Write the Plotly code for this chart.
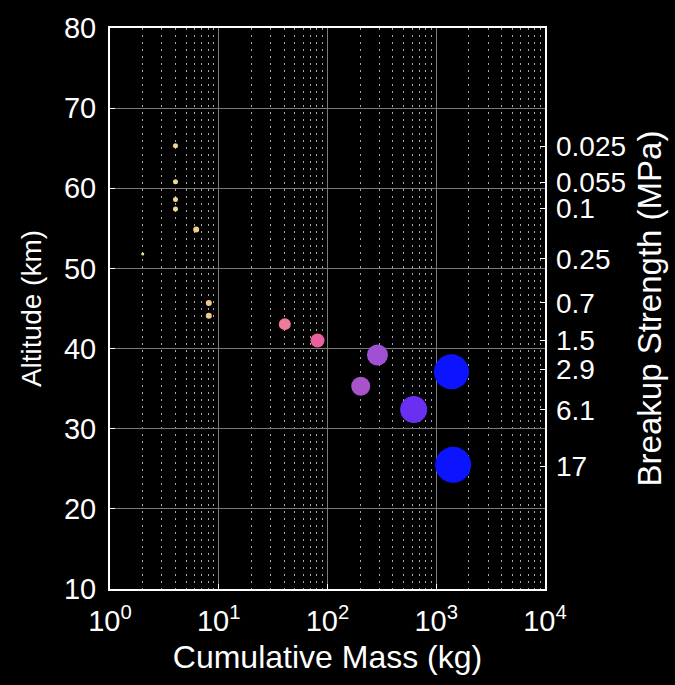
import plotly.graph_objects as go

# Data
mass_kg = [4.0, 4.0, 4.0, 4.0, 6.2, 2.0, 8.1, 8.1, 40.5, 81, 288, 202, 620, 1380, 1430]
altitude_km = [65.3, 60.8, 58.6, 57.4, 54.85, 51.8, 45.7, 44.1, 43.05, 41.0, 39.2, 35.3, 32.4, 37.1, 25.5]
marker_px = [5, 5, 5, 5, 6, 3, 6, 6, 12, 14, 21, 19, 27, 35, 36]
marker_colors = ["#f0d890", "#f0d890", "#f0d890", "#f0d890", "#f0d08c", "#f0e0a0",
                 "#f0c88c", "#f0c88c", "#f07a9c", "#e8609e", "#a050d4", "#a854c8",
                 "#6a30f2", "#0c14ff", "#0c14ff"]

strength_alt = [65.2, 60.7, 57.5, 51.2, 45.7, 41.0, 37.4, 32.35, 25.3]
strength_labels = ["0.025", "0.055", "0.1", "0.25", "0.7", "1.5", "2.9", "6.1", "17"]

x_decades = [1, 10, 100, 1000, 10000]
x_ticktext = ["10<sup>0</sup>", "10<sup>1</sup>", "10<sup>2</sup>", "10<sup>3</sup>", "10<sup>4</sup>"]
x_minor = [m * d for d in [1, 10, 100, 1000] for m in range(2, 10)]
y_ticks = [10, 20, 30, 40, 50, 60, 70, 80]

FONT = "Liberation Sans, Arial, Helvetica, sans-serif"

fig = go.Figure()
fig.add_trace(go.Scatter(
    x=mass_kg, y=altitude_km, mode="markers",
    marker=dict(size=marker_px, color=marker_colors, opacity=1, line=dict(width=0)),
    showlegend=False, hoverinfo="x+y",
))
# invisible trace to activate y2
fig.add_trace(go.Scatter(x=[mass_kg[0]], y=[altitude_km[0]], yaxis="y2",
                         mode="markers", marker=dict(opacity=0), showlegend=False,
                         hoverinfo="skip"))

fig.update_layout(
    width=675, height=685,
    paper_bgcolor="black", plot_bgcolor="black",
    margin=dict(l=110, r=130, t=22, b=96),
    font=dict(family=FONT, color="white", size=28),
    xaxis=dict(
        type="log", range=[0, 4],
        tickvals=x_decades, ticktext=x_ticktext,
        tickfont=dict(size=29), ticklabelstandoff=5,
        ticks="inside", ticklen=5, tickcolor="white",
        showgrid=True, gridcolor="#7a7a7a", gridwidth=1,
        minor=dict(tickvals=x_minor, showgrid=True, gridcolor="#a8a8a8",
                   griddash="2px,5px", gridwidth=1, ticks=""),
        showline=True, linecolor="white", linewidth=2, mirror=True,
        zeroline=False,
        title=dict(text="Cumulative Mass (kg)", font=dict(size=32), standoff=10),
    ),
    yaxis=dict(
        range=[10, 80], tickvals=y_ticks,
        tickfont=dict(size=29), ticklabelstandoff=6,
        ticks="inside", ticklen=5, tickcolor="white",
        showgrid=True, gridcolor="#7a7a7a", gridwidth=1,
        showline=True, linecolor="white", linewidth=2, mirror=True,
        zeroline=False,
        title=dict(text="Altitude (km)", font=dict(size=28), standoff=14),
    ),
    yaxis2=dict(
        overlaying="y", side="right", range=[10, 80],
        tickvals=strength_alt, ticktext=strength_labels,
        tickfont=dict(size=28), ticklabelstandoff=10,
        ticks="inside", ticklen=5, tickcolor="white",
        showgrid=False, zeroline=False, showline=False,
        title=dict(text="Breakup Strength (MPa)", font=dict(size=33), standoff=12),
    ),
)

fig.write_html("out.html")
